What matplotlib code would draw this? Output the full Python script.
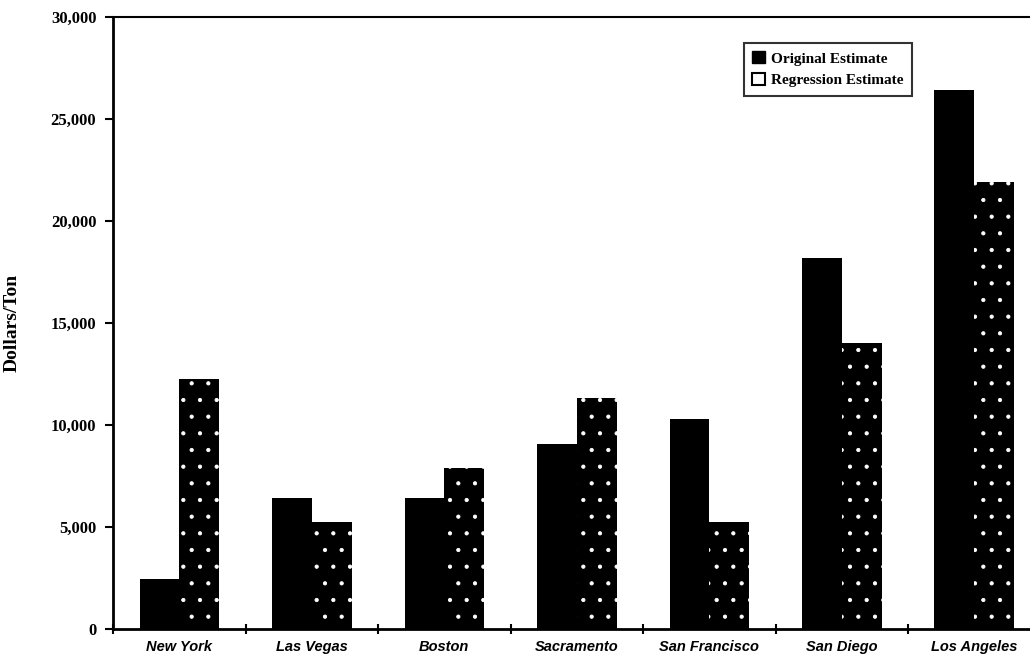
import numpy as np
import matplotlib.pyplot as plt
from matplotlib.patches import Patch

cities = ['New York', 'Las Vegas', 'Boston', 'Sacramento',
          'San Francisco', 'San Diego', 'Los Angeles']
original = [2450, 6400, 6400, 9050, 10300, 18200, 26400]
regression = [12250, 5230, 7900, 11300, 5230, 14000, 21900]
yticks = [0, 5000, 10000, 15000, 20000, 25000, 30000]


def main():
    plt.rcParams['hatch.linewidth'] = 0.6
    fig = plt.figure(figsize=(10.30, 6.63), dpi=100)
    ax = fig.add_axes([113 / 1030, 34 / 663, 927.5 / 1030, 612 / 663])

    x = np.arange(len(cities))
    w = 0.30
    ax.bar(x - w / 2, original, w, color='black', linewidth=0)
    ax.bar(x + w / 2, regression, w, facecolor='black', edgecolor='white',
           hatch='.', linewidth=0)

    ax.set_xlim(-0.5, len(cities) - 0.5)
    ax.set_ylim(0, 30000)

    # y axis
    ax.set_yticks(yticks)
    ax.set_yticklabels(['{:,}'.format(v) if v else '0' for v in yticks],
                       fontfamily='Liberation Serif', fontweight='bold',
                       fontsize=12)
    ax.tick_params(axis='y', direction='out', length=6, width=1.5, pad=6)
    ax.set_ylabel('Dollars/Ton', fontfamily='Liberation Serif',
                  fontweight='bold', fontsize=14, labelpad=22)

    # x axis: labels at centers, tick marks between groups
    ax.set_xticks(x)
    ax.set_xticklabels(cities, fontfamily='Liberation Sans', fontweight='bold',
                       fontstyle='italic', fontsize=10.5)
    ax.tick_params(axis='x', length=0, pad=8)
    ax.set_xticks(np.arange(-0.5, len(cities), 1.0), minor=True)
    ax.tick_params(axis='x', which='minor', direction='inout', length=7,
                   width=1.5)

    ax.spines['left'].set_linewidth(2)
    ax.spines['bottom'].set_linewidth(2)
    ax.spines['top'].set_linewidth(1.5)
    ax.spines['right'].set_visible(False)

    handles = [Patch(facecolor='black', edgecolor='black', label='Original Estimate'),
               Patch(facecolor='white', edgecolor='black', linewidth=1.5,
                     label='Regression Estimate')]
    leg = ax.legend(handles=handles, loc='upper left',
                    bbox_to_anchor=(0.672, 0.97), frameon=True, fancybox=False,
                    edgecolor='black', handlelength=0.8, handleheight=0.8,
                    handletextpad=0.4, borderpad=0.55, labelspacing=0.5,
                    prop={'family': 'Liberation Serif', 'weight': 'bold',
                          'size': 11})
    leg.get_frame().set_linewidth(1.5)

    fig.savefig('out.png', dpi=100, facecolor='white')


if __name__ == "__main__":
    main()
